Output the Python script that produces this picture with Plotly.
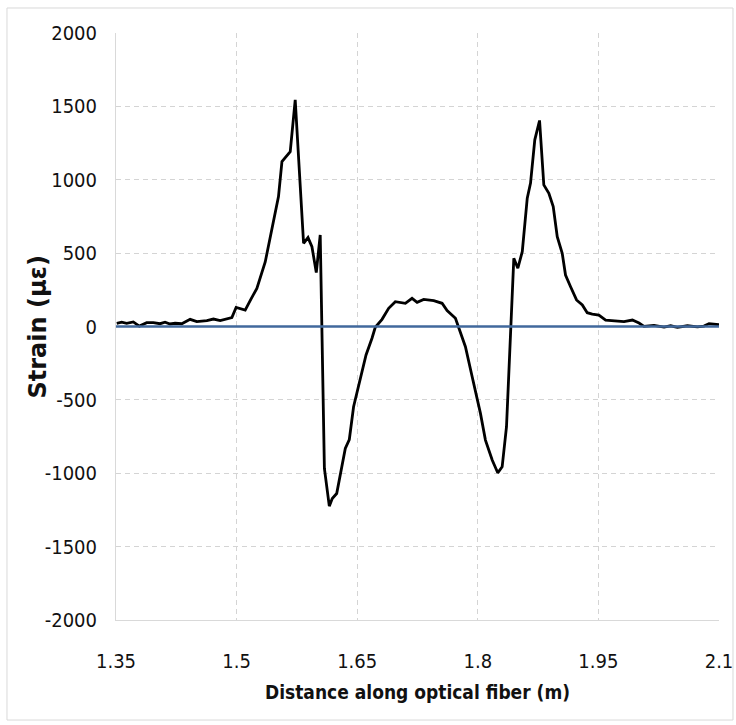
import plotly.graph_objects as go

# Strain profile measured along the optical fiber
distance_m = [
    1.3509, 1.3571, 1.3633, 1.3715, 1.3790, 1.3882, 1.3964, 1.4048, 1.4110, 1.4172,
    1.4235, 1.4318, 1.4422, 1.4505, 1.4630, 1.4712, 1.4796, 1.4898, 1.4941, 1.4994,
    1.5107, 1.5177, 1.5252, 1.5356, 1.5439, 1.5521, 1.5564, 1.5667, 1.5729, 1.5833,
    1.5888, 1.5937, 1.5991, 1.6040, 1.6092, 1.6153, 1.6190, 1.6245, 1.6352, 1.6402,
    1.6455, 1.6539, 1.6610, 1.6684, 1.6725, 1.6809, 1.6891, 1.6974, 1.7099, 1.7182,
    1.7245, 1.7327, 1.7452, 1.7556, 1.7618, 1.7722, 1.7763, 1.7846, 1.7930, 1.8033,
    1.8095, 1.8179, 1.8248, 1.8303, 1.8357, 1.8407, 1.8448, 1.8498, 1.8553, 1.8615,
    1.8656, 1.8709, 1.8768, 1.8821, 1.8884, 1.8938, 1.8988, 1.9050, 1.9091, 1.9154,
    1.9228, 1.9300, 1.9361, 1.9424, 1.9506, 1.9590, 1.9693, 1.9818, 1.9923, 2.0005,
    2.0067, 2.0191, 2.0316, 2.0399, 2.0482, 2.0607, 2.0732, 2.0813, 2.0876, 2.0938,
    2.1001,
]
strain_ue = [
    22, 29, 22, 31, 3, 26, 26, 19, 29, 17,
    22, 19, 49, 33, 40, 51, 40, 56, 61, 130,
    112, 185, 260, 440, 658, 885, 1124, 1192, 1545, 567,
    606, 544, 368, 624, -967, -1224, -1172, -1138, -831, -770,
    -547, -365, -194, -80, -5, 49, 124, 169, 158, 192,
    165, 185, 176, 158, 108, 56, -5, -138, -342, -592,
    -774, -910, -997, -956, -683, -92, 465, 397, 510, 874,
    977, 1272, 1404, 965, 908, 817, 612, 499, 351, 271,
    181, 147, 94, 85, 78, 44, 40, 33, 44, 24,
    1, 8, -4, 5, -6, 5, -3, 3, 20, 17,
    12,
]

# Reference (zero strain) series
reference_x = [1.35, 2.1]
reference_y = [0, 0]

x_ticks = [1.35, 1.5, 1.65, 1.8, 1.95, 2.1]
x_tick_text = ["1.35", "1.5", "1.65", "1.8", "1.95", "2.1"]
y_ticks = [-2000, -1500, -1000, -500, 0, 500, 1000, 1500, 2000]
y_tick_text = ["-2000", "-1500", "-1000", "-500", "0", "500", "1000", "1500", "2000"]

TICK_FONT = dict(family="DejaVu Sans Condensed, DejaVu Sans", size=20, color="#111111")
GRID = "#d4d4d4"

fig = go.Figure()
fig.add_trace(go.Scatter(
    x=distance_m, y=strain_ue, mode="lines",
    line=dict(color="#000000", width=2.8),
    showlegend=False,
))
fig.add_trace(go.Scatter(
    x=reference_x, y=reference_y, mode="lines",
    line=dict(color="#41689c", width=2.4),
    showlegend=False,
))

fig.update_layout(
    width=736, height=725,
    margin=dict(l=116, r=17, t=33, b=105),
    paper_bgcolor="white", plot_bgcolor="white",
    xaxis=dict(
        range=[1.35, 2.1], automargin=False,
        tickmode="array", tickvals=x_ticks, ticktext=x_tick_text,
        showgrid=True, gridcolor=GRID, griddash="5px,4px", gridwidth=1,
        showline=True, linecolor="#d9d9d9", linewidth=1,
        zeroline=False, ticks="",
        tickfont=TICK_FONT, ticklabelstandoff=23,
        title=dict(
            text="<b>Distance along optical fiber (m)</b>",
            font=dict(family="DejaVu Sans Condensed, DejaVu Sans", size=19, color="#111111"),
            standoff=13,
        ),
    ),
    yaxis=dict(
        range=[-2000, 2000], automargin=False,
        tickmode="array", tickvals=y_ticks, ticktext=y_tick_text,
        showgrid=True, gridcolor=GRID, griddash="5px,4px", gridwidth=1,
        showline=True, linecolor="#d9d9d9", linewidth=1,
        zeroline=False, ticks="",
        tickfont=TICK_FONT, ticklabelstandoff=14,
    ),
    annotations=[dict(
        text="<b>Strain (με)</b>", textangle=-90,
        xref="paper", yref="paper", x=-0.1294, y=0.5,
        xanchor="center", yanchor="middle", showarrow=False,
        font=dict(family="DejaVu Sans, Verdana", size=24, color="#111111"),
    )],
    shapes=[dict(
        type="rect", xref="paper", yref="paper",
        x0=-0.1808, x1=1.0232, y0=-0.1704, y1=1.0426,
        line=dict(color="#d9d9d9", width=1), fillcolor="rgba(0,0,0,0)",
        layer="below",
    )],
)

fig.write_html("out.html")
